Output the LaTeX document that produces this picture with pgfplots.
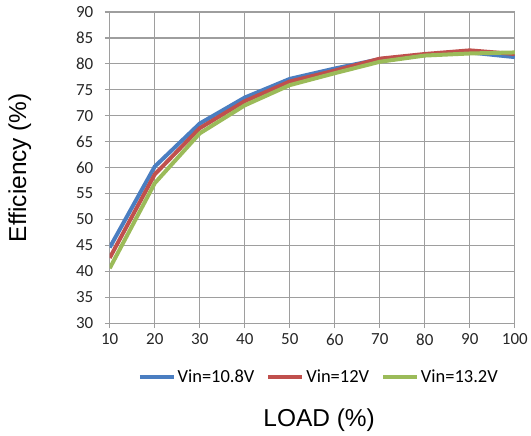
\documentclass[border=0pt]{standalone}
\usepackage{pgfplots}
\pgfplotsset{compat=1.18}
\usepackage{fontspec}
\setmainfont{Liberation Sans}
\newfontfamily\tickfont{Carlito}
\definecolor{cblue}{RGB}{74,126,193}
\definecolor{cred}{RGB}{192,80,77}
\definecolor{cgreen}{RGB}{155,187,89}
\definecolor{gridc}{RGB}{158,158,158}
\begin{document}
\begin{tikzpicture}
\begin{axis}[
  at={(0,0)}, anchor=south west,
  scale only axis, width=406bp, height=312bp,
  xmin=10, xmax=100, ymin=30, ymax=90,
  xtick={10,20,...,100}, ytick={30,35,...,90},
  grid=major,
  major grid style={gridc, line width=1.2bp},
  axis line style={gridc, line width=1.2bp},
  tick style={gridc, line width=1.2bp},
  tick align=outside, major tick length=5bp,
  xtick pos=bottom, ytick pos=left,
  /pgf/number format/assume math mode=true,
  ticklabel style={font=\tickfont\fontsize{17bp}{20bp}\selectfont, text=black!85},
  xticklabel style={yshift=-2bp},
  yticklabel style={xshift=-8bp},
  xlabel={LOAD (\%)},
  ylabel={Efficiency (\%)},
  label style={font=\fontsize{24.5bp}{28bp}\selectfont},
  xlabel style={at={(axis description cs:0.517,-0.31)}, anchor=center},
  ylabel style={at={(axis description cs:-0.222,0.5)}, anchor=center, rotate=0},
  legend style={at={(axis description cs:0.516,-0.173)}, anchor=center, draw=none, fill=none,
    legend columns=3, font=\tickfont\fontsize{18.5bp}{21bp}\selectfont,
    /tikz/every even column/.append style={column sep=10bp}},
  legend image code/.code={\draw[#1, line width=4bp] (0cm,0cm) -- (34bp,0cm);},
  legend cell align=left,
]
\addplot[cblue, line width=4bp] coordinates {(10,44.6) (20,60.2) (30,68.5) (40,73.5) (50,77.1) (60,79.1) (70,80.9) (80,81.7) (90,82.2) (100,81.3)};
\addlegendentry{Vin=10.8V}
\addplot[cred, line width=4bp] coordinates {(10,42.6) (20,58.7) (30,67.6) (40,72.8) (50,76.6) (60,78.7) (70,81.0) (80,81.9) (90,82.6) (100,81.9)};
\addlegendentry{Vin=12V}
\addplot[cgreen, line width=4bp] coordinates {(10,40.6) (20,57.0) (30,66.6) (40,72.0) (50,75.9) (60,78.2) (70,80.4) (80,81.6) (90,82.0) (100,82.2)};
\addlegendentry{Vin=13.2V}
\end{axis}
\useasboundingbox (-110bp,-113bp) rectangle (421bp,324bp);
\end{tikzpicture}
\end{document}
